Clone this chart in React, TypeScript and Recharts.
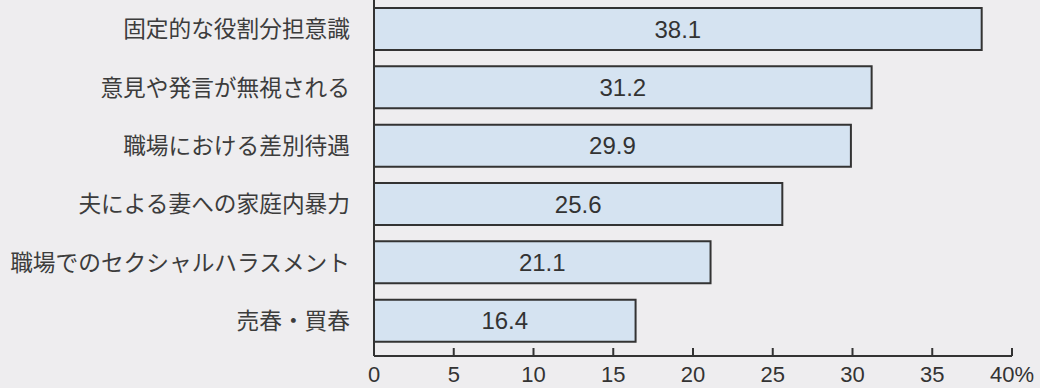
import React from 'react';
import { BarChart, Bar, XAxis, YAxis, LabelList } from 'recharts';

const categories = [
  '固定的な役割分担意識',
  '意見や発言が無視される',
  '職場における差別待遇',
  '夫による妻への家庭内暴力',
  '職場でのセクシャルハラスメント',
  '売春・買春',
];
const values = [38.1, 31.2, 29.9, 25.6, 21.1, 16.4];
const tickValues = [0, 5, 10, 15, 20, 25, 30, 35, 40];
const tickLabels = ['0', '5', '10', '15', '20', '25', '30', '35', '40%'];

const data = categories.map((name, i) => ({ name, value: values[i] }));

const XTick = (props: any) => {
  const { x, y, payload } = props;
  const label = tickLabels[tickValues.indexOf(payload.value)] ?? String(payload.value);
  return (
    <g>
      <line x1={x} x2={x} y1={y - 8} y2={y} stroke="#333" strokeWidth={2} />
      <text
        x={x}
        y={y + 26}
        textAnchor="middle"
        fontSize={22}
        fill="#333"
        fontFamily="'Liberation Sans', Arial, sans-serif"
      >
        {label}
      </text>
    </g>
  );
};

const YTick = (props: any) => {
  const { x, y, payload } = props;
  return (
    <text
      x={x}
      y={y}
      dy={8}
      textAnchor="end"
      fontSize={22.7}
      fill="#3c3c3c"
      fontFamily="'Noto Sans CJK JP', sans-serif"
    >
      {payload.value}
    </text>
  );
};

export default function App() {
  return (
    <div
      style={{
        position: 'absolute',
        left: 0,
        top: 0,
        width: 1040,
        height: 388,
        background: '#eeedef',
      }}
    >
      <BarChart
        layout="vertical"
        width={1040}
        height={388}
        data={data}
        margin={{ top: 0, right: 28, bottom: 0, left: 0 }}
      >
        <XAxis
          type="number"
          domain={[0, 40]}
          ticks={tickValues}
          interval={0}
          height={32}
          tickSize={0}
          tickMargin={0}
          tickLine={false}
          axisLine={{ stroke: '#333', strokeWidth: 2 }}
          tick={<XTick />}
        />
        <YAxis
          type="category"
          dataKey="name"
          width={374}
          padding={{ top: 0, bottom: 6 }}
          tickSize={0}
          tickMargin={24}
          tickLine={false}
          axisLine={{ stroke: '#333', strokeWidth: 2 }}
          tick={<YTick />}
          interval={0}
        />
        <Bar
          dataKey="value"
          barSize={42}
          fill="#d5e3f1"
          stroke="#333"
          strokeWidth={2}
          isAnimationActive={false}
        >
          <LabelList
            dataKey="value"
            position="center"
            fill="#333"
            fontSize={24}
            fontFamily="'Liberation Sans', Arial, sans-serif"
          />
        </Bar>
      </BarChart>
    </div>
  );
}
